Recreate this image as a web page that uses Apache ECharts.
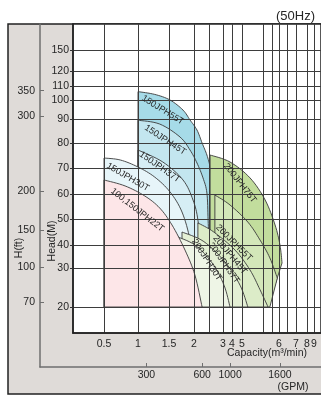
<!DOCTYPE html>
<html>
<head>
<meta charset="utf-8">
<script src="https://cdn.jsdelivr.net/npm/echarts@6/dist/echarts.min.js"></script>
<style>
html, body { margin: 0; padding: 0; background: #fff; }
#main { width: 321px; height: 395px; }
</style>
</head>
<body>
<div id="main"></div>
<script>
// tick labels of the printed chart
var capLabels = [0.5, 1, 1.5, 2, 3, 4, 5, 6, 7, 8, 9];          // m3/min
var capGrid = [0.5, 1, 1.5, 2, 2.5, 3, 4, 5, 5.5, 5.75, 6, 6.5, 7, 8, 9];
var headTicks = [20, 30, 40, 50, 60, 70, 80, 90, 100, 110, 120, 150]; // m
var ftTicks = [70, 100, 150, 200, 300, 350];
var gpmTicks = [300, 600, 1000, 1600];

// the printed scale is hand drawn (neither linear nor log):
// where every gridline value sits along the axis
var capScaleQ   = [0.5, 1, 1.5, 2, 2.5, 3, 4, 5, 5.5, 5.75, 6, 6.5, 7, 8, 9, 10];
var capScalePos = [31, 65, 96, 121, 136, 150, 159, 169, 190, 199, 206, 214, 223, 234, 241, 248];
var headScaleH   = [20, 30, 40, 50, 60, 70, 80, 90, 100, 110, 120, 150];
var headScalePos = [283, 244, 221, 195, 170, 144, 119, 95, 76, 62, 47, 26];

// model names, back to front
var models = ['150JPH55T', '150JPH45T', '150JPH37T', '150JPH30T',
  '200JPH75T', '200JPH55T', '200JPH45T', '200JPH37T', '200JPH30T', '100,150JPH22T'];

// upper limit curve of every model, [capacity m3/min, head m]
var c150_55 = [[1, 106], [1.27, 104], [1.52, 100], [1.78, 94.7], [1.92, 89.6], [2.1, 85.4], [2.27, 80], [2.43, 75.2], [2.54, 70.4], [2.61, 65.4], [2.64, 60.4], [2.71, 48.5], [2.75, 33.5], [2.75, 20]];
var c150_45 = [[1, 89.5], [1.35, 87.9], [1.72, 82.5], [1.92, 77.2], [2.1, 72], [2.3, 66.2], [2.43, 60.4], [2.47, 49.6], [2.5, 37.8], [2.5, 20]];
var c150_37 = [[1, 77.2], [1.4, 72.4], [1.78, 65.4], [1.98, 57.6], [2.13, 49.6], [2.2, 37.8], [2.2, 20]];
var c150_30 = [[0.5, 74], [0.74, 73.2], [1, 70.4], [1.27, 66.5], [1.52, 60.8], [1.76, 52.8], [1.92, 41.9], [1.98, 29.5], [2, 20]];
var c200_75 = [[2.54, 75.2], [3.78, 72.4], [5.19, 66.2], [5.56, 57.6], [5.86, 47.7], [6.06, 40], [6.19, 32.2]];
var c200_55 = [[2.71, 59.6], [3.78, 55.6], [5.14, 48.8], [5.43, 41.9], [5.69, 34.4], [5.94, 27.4]];
var c200_45 = [[2.13, 48.5], [2.67, 45], [4.3, 37.8], [5.19, 29.5], [5.43, 24.4], [5.64, 20]];
var c200_37 = [[1.76, 45], [2.33, 41.3], [3.22, 32.6], [4.8, 25.6], [5.14, 20]];
var c200_30 = [[1.62, 43.5], [2.03, 40], [2.61, 32.2], [3.11, 25.6], [3.78, 20]];
var c22 = [[0.5, 65.4], [0.81, 63.1], [1.11, 59.2], [1.35, 54.4], [1.56, 47.7], [1.82, 37.8], [2.03, 28.2], [2.27, 20]];
var curves = [c150_55, c150_45, c150_37, c150_30, c200_75, c200_55, c200_45, c200_37, c200_30, c22];

// capacity where each range meets the 20 m line
var footQ = [2.75, 2.5, 2.2, 2, 5.64, 5.69, 5.64, 5.14, 3.78, 2.27];
var minHead = 20;

// where the model names are written, [capacity, head]
var labelAt = [[1.4, 94.7], [1.44, 81.3], [1.35, 70.4], [0.85, 66.5],
  [4.8, 64.2], [4.2, 40.8], [3.78, 35.7], [3.11, 32.2], [2.43, 33.5], [0.99, 53.6]];
var labelAngle = [32, 33, 35, 30, 52, 45, 50, 55, 57, 38];   // degrees, sloping down

var colors = ['#a6dbe8', '#c3e6ef', '#d6eef5', '#e7f5f9',
  '#c2dd9d', '#d3e7b9', '#dcecc8', '#e4f0d5', '#eef5e6', '#fde6e8'];

function interp(v, xs, ys) {
  var i = 1;
  while (i < xs.length - 1 && v > xs[i]) i++;
  return ys[i - 1] + (v - xs[i - 1]) * (ys[i] - ys[i - 1]) / (xs[i] - xs[i - 1]);
}
function capPos(q) { return interp(q, capScaleQ, capScalePos); }
function headPos(h) { return interp(h, headScaleH, headScalePos); }
function gpmPos(g) { return capPos(g * 0.0037854); }
function ftPos(f) { return headPos(f * 0.3048); }

function labeler(list, toPos) {
  var m = {};
  list.forEach(function (v) { m[Math.round(toPos(v) * 10)] = String(v); });
  return function (val) { return m[Math.round(val * 10)] || ''; };
}

// catmull-rom through the read points
function spline(pts) {
  var out = [];
  for (var i = 0; i < pts.length - 1; i++) {
    var p0 = pts[i - 1] || pts[i], p1 = pts[i], p2 = pts[i + 1], p3 = pts[i + 2] || p2;
    for (var t = 0; t < 1; t += 0.125) {
      var t2 = t * t, t3 = t2 * t;
      out.push([0, 1].map(function (k) {
        return 0.5 * (2 * p1[k] + (p2[k] - p0[k]) * t +
          (2 * p0[k] - 5 * p1[k] + 4 * p2[k] - p3[k]) * t2 +
          (3 * p1[k] - p0[k] - 3 * p2[k] + p3[k]) * t3);
      }));
    }
  }
  out.push(pts[pts.length - 1]);
  return out;
}

var font = '"Liberation Sans", Arial, sans-serif';
var gridColor = '#3d3d3d';
var textColor = '#262626';

var chart = echarts.init(document.getElementById('main'));

var option = {
  backgroundColor: '#fff',
  animation: false,
  title: {
    text: '(50Hz)', right: 1, top: 5,
    textStyle: { fontSize: 13, fontWeight: 'normal', color: textColor, fontFamily: font }
  },
  graphic: [
    { type: 'rect', z: -10, shape: { x: 8, y: 24, width: 320, height: 370 },
      style: { fill: '#dfdbd8', stroke: '#222', lineWidth: 1.5 } },
    { type: 'text', x: 267, y: 353, style: { text: 'Capacity(m³/min)', font: '10.5px ' + font, fill: textColor, align: 'center', verticalAlign: 'middle' } },
    { type: 'text', x: 293, y: 387, style: { text: '(GPM)', font: '10.5px ' + font, fill: textColor, align: 'center', verticalAlign: 'middle' } },
    { type: 'text', x: 19, y: 248, rotation: Math.PI / 2, style: { text: 'H(ft)', font: '10.5px ' + font, fill: textColor, align: 'center', verticalAlign: 'middle' } },
    { type: 'text', x: 52, y: 241, rotation: Math.PI / 2, style: { text: 'Head(M)', font: '10.5px ' + font, fill: textColor, align: 'center', verticalAlign: 'middle' } }
  ],
  grid: [
    { left: 73, top: 24, right: 0, bottom: 62, show: true, backgroundColor: '#fff', borderColor: '#222', borderWidth: 1.5, z: 1 },
    { left: 40, top: 24, right: 0, bottom: 28, show: false }
  ],
  xAxis: [
    {
      gridIndex: 0, type: 'value', min: 0, max: 248, z: 4,
      axisLine: { show: true, onZero: false, lineStyle: { color: '#222', width: 1.5 } },
      axisTick: { show: false, customValues: capGrid.map(capPos) },
      splitLine: { show: true, lineStyle: { color: gridColor, width: 1 } },
      axisLabel: {
        customValues: capLabels.map(capPos), formatter: labeler(capLabels, capPos),
        margin: 6, color: textColor, fontSize: 10.5, fontFamily: font
      }
    },
    {
      gridIndex: 1, type: 'value', min: -33, max: 248, z: 3,
      axisLine: { show: true, onZero: false, lineStyle: { color: '#6f6f6f', width: 1.5 } },
      axisTick: { show: true, inside: true, length: 4, customValues: gpmTicks.map(gpmPos), lineStyle: { color: '#6f6f6f' } },
      splitLine: { show: false },
      axisLabel: {
        customValues: gpmTicks.map(gpmPos), formatter: labeler(gpmTicks, gpmPos),
        margin: 3, color: textColor, fontSize: 10.5, fontFamily: font
      }
    }
  ],
  yAxis: [
    {
      gridIndex: 0, type: 'value', inverse: true, min: 0, max: 309, z: 4,
      axisLine: { show: true, onZero: false, lineStyle: { color: '#222', width: 1.5 } },
      axisTick: { show: true, length: 3, customValues: headTicks.map(headPos), lineStyle: { color: '#333' } },
      splitLine: { show: true, lineStyle: { color: gridColor, width: 1 } },
      axisLabel: {
        customValues: headTicks.map(headPos), formatter: labeler(headTicks, headPos),
        margin: 4, color: textColor, fontSize: 10.5, fontFamily: font
      }
    },
    {
      gridIndex: 1, type: 'value', inverse: true, min: 0, max: 343, z: 3,
      axisLine: { show: true, onZero: false, lineStyle: { color: '#6f6f6f', width: 1.5 } },
      axisTick: { show: true, inside: true, length: 4, customValues: ftTicks.map(ftPos), lineStyle: { color: '#6f6f6f' } },
      splitLine: { show: false },
      axisLabel: {
        customValues: ftTicks.map(ftPos), formatter: labeler(ftTicks, ftPos),
        margin: 5, color: textColor, fontSize: 10.5, fontFamily: font
      }
    }
  ],
  series: [
    {
      type: 'custom', name: 'ranges', xAxisIndex: 0, yAxisIndex: 0, z: 2, clip: false,
      data: labelAt.map(function (p) { return [capPos(p[0]), headPos(p[1])]; }),
      renderItem: function (params, api) {
        var i = params.dataIndex;
        var pts = curves[i].map(function (p) { return api.coord([capPos(p[0]), headPos(p[1])]); });
        var outline = spline(pts);
        outline.push(api.coord([capPos(footQ[i]), headPos(minHead)]));
        outline.push(api.coord([capPos(curves[i][0][0]), headPos(minHead)]));
        return {
          type: 'polygon', shape: { points: outline },
          style: { fill: colors[i], stroke: '#3a3a3a', lineWidth: 0.9 }
        };
      }
    },
    {
      type: 'custom', name: 'models', xAxisIndex: 0, yAxisIndex: 0, z: 6, clip: false,
      data: labelAt.map(function (p) { return [capPos(p[0]), headPos(p[1])]; }),
      renderItem: function (params, api) {
        var i = params.dataIndex;
        var c = api.coord([api.value(0), api.value(1)]);
        return {
          type: 'text', x: c[0], y: c[1], rotation: -labelAngle[i] * Math.PI / 180,
          style: { text: models[i], font: '9px ' + font, fill: textColor, align: 'center', verticalAlign: 'middle' }
        };
      }
    }
  ]
};

chart.setOption(option);
</script>
</body>
</html>
